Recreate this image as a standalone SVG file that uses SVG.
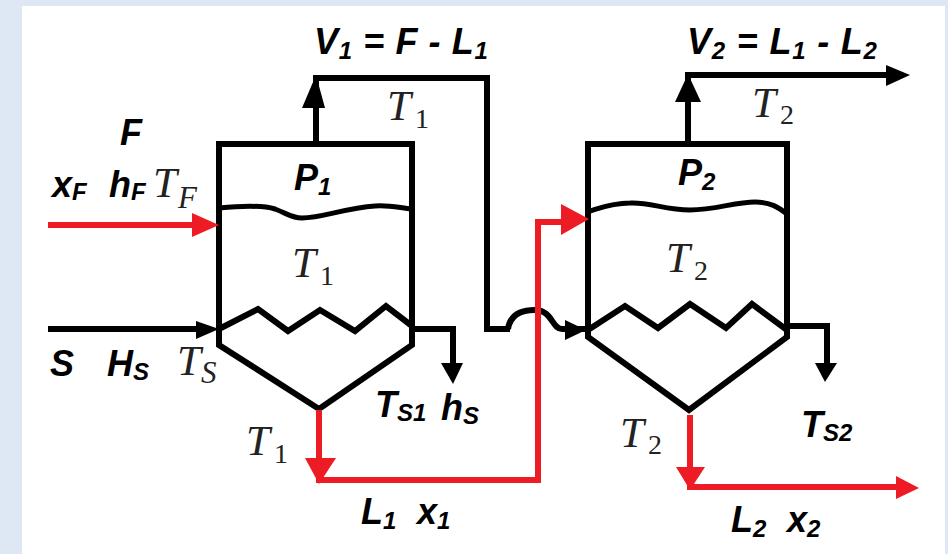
<svg xmlns="http://www.w3.org/2000/svg" width="948" height="554" viewBox="0 0 948 554">
<style>
.k{fill:none;stroke:#000;stroke-width:6;stroke-linejoin:miter}
.t{fill:none;stroke:#000;stroke-width:5}
.r{fill:none;stroke:#ed1c24;stroke-width:6}
.hk{fill:#000}.hr{fill:#ed1c24}
.b{font-family:"Liberation Sans",Arial,sans-serif;font-weight:bold;font-style:italic;font-size:36px;fill:#000}
.b .u{font-size:24px}
.m{font-family:"Liberation Serif","Times New Roman",serif;font-size:43px;fill:#222}
.m .i{font-style:italic}
.m .s{font-size:28px}
.m .f{font-size:31px;font-style:italic}
</style>
<rect width="948" height="554" fill="#dde8f4"/>
<rect x="22" y="6" width="923" height="548" fill="#fff"/>
<g id="evaporator1">
<path class="k" d="M219 144H412V345L319 409L219 345V144Z"/>
<path class="t" d="M219 208C240 206 262 205 275 209C288 214 292 218 302 218C322 218 345 208 375 206C390 205 400 208 412 209"/>
<path class="k" d="M219 329L258 309L288 331L320 310L355 331L386 306L412 326"/>
</g>
<g id="evaporator2">
<path class="k" d="M588 144H787V337L689 410L588 337V144Z"/>
<path class="t" d="M590 211C600 208 612 203 630 203C650 202 665 210 690 210C715 210 735 202 755 202C770 202 778 207 787 214"/>
<path class="k" d="M588 330L625 306L658 328L690 304L726 328L752 304L787 330"/>
</g>
<g id="connectors">
<path class="k" d="M316 144V78H487V329H510"/>
<path class="k" d="M508 329C510 316 520 310 535 310C552 310 552 329 562 329H585"/>
<path class="hk" d="M316 75L325 108H302Z"/>
<path class="hk" d="M586 330L565 320V340Z"/>
<path class="k" d="M688 144V75H890"/>
<path class="hk" d="M688 74L701 102H675Z"/>
<path class="hk" d="M910 75L886 65V86Z"/>
<path class="k" d="M48 329H200"/>
<path class="hk" d="M219 329L196 321V339Z"/>
<path class="k" d="M412 329H453V365"/>
<path class="hk" d="M453 384L441 363H463Z"/>
<path class="k" d="M787 326H827V368"/>
<path class="hk" d="M825 382L815 363H837Z"/>
<path class="r" d="M48 225H200"/>
<path class="hr" d="M219 225L192 213V237Z"/>
<path class="r" d="M319 410V480H538V222H566"/>
<path class="hr" d="M589 219L561 204V235Z"/>
<path class="hr" d="M319 484L305 458H336Z"/>
<path class="r" d="M690 415V487H900"/>
<path class="hr" d="M690 490L676 467H705Z"/>
<path class="hr" d="M919 488L896 476V499Z"/>
</g>
<g id="labels">
<text class="b" x="314" y="54" letter-spacing="0.6">V<tspan class="u" dy="5">1</tspan><tspan dy="-5"> = F - L</tspan><tspan class="u" dy="5">1</tspan></text>
<text class="b" x="687" y="54" letter-spacing="0.8">V<tspan class="u" dy="5">2</tspan><tspan dy="-5"> = L</tspan><tspan class="u" dy="5">1</tspan><tspan dy="-5"> - L</tspan><tspan class="u" dy="5">2</tspan></text>
<text class="b" x="120" y="145">F</text>
<text class="b" x="52" y="197">x<tspan class="u" dy="3">F</tspan></text>
<text class="b" x="109" y="197">h<tspan class="u" dy="3">F</tspan></text>
<text class="b" x="294" y="190">P<tspan class="u" dy="5">1</tspan></text>
<text class="b" x="678" y="185">P<tspan class="u" dy="5">2</tspan></text>
<text class="b" x="50" y="376">S</text>
<text class="b" x="107" y="376">H<tspan class="u" dy="4">S</tspan></text>
<text class="b" x="375" y="417">T<tspan class="u" dy="4">S1</tspan></text>
<text class="b" x="441" y="420">h<tspan class="u" dy="4">S</tspan></text>
<text class="b" x="801" y="437">T<tspan class="u" dy="4">S2</tspan></text>
<text class="b" x="361" y="524">L<tspan class="u" dy="5">1</tspan></text>
<text class="b" x="417" y="524">x<tspan class="u" dy="5">1</tspan></text>
<text class="b" x="731" y="532">L<tspan class="u" dy="5">2</tspan></text>
<text class="b" x="787" y="532">x<tspan class="u" dy="5">2</tspan></text>
<text class="m" x="387" y="120"><tspan class="i">T</tspan><tspan class="s" dx="4" dy="8">1</tspan></text>
<text class="m" x="752" y="117"><tspan class="i">T</tspan><tspan class="s" dx="4" dy="7">2</tspan></text>
<text class="m" x="292" y="277"><tspan class="i">T</tspan><tspan class="s" dx="4" dy="8">1</tspan></text>
<text class="m" x="666" y="272"><tspan class="i">T</tspan><tspan class="s" dx="4" dy="8">2</tspan></text>
<text class="m" x="246" y="455"><tspan class="i">T</tspan><tspan class="s" dx="4" dy="8">1</tspan></text>
<text class="m" x="620" y="447"><tspan class="i">T</tspan><tspan class="s" dx="4" dy="7">2</tspan></text>
<text class="m" x="153" y="197"><tspan class="i">T</tspan><tspan class="f" dx="1" dy="11">F</tspan></text>
<text class="m" x="177" y="375"><tspan class="i">T</tspan><tspan class="f" dx="0" dy="8">S</tspan></text>
</g>
</svg>
